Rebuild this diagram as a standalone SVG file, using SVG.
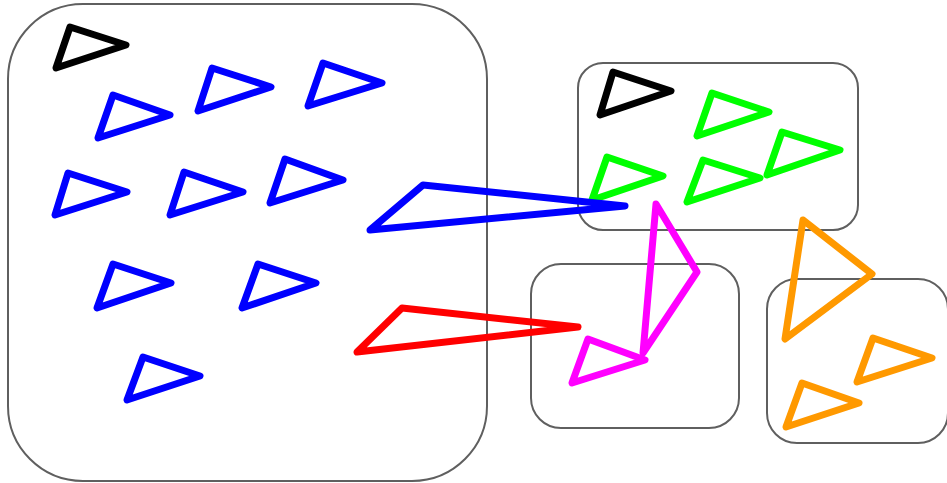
<svg xmlns="http://www.w3.org/2000/svg" width="947" height="483" viewBox="0 0 947 483">
<style>
.box{fill:#fff;stroke:#5f5f5f;stroke-width:2}
.t{fill:none;stroke-width:7;stroke-linejoin:round;stroke-linecap:round}
.k{stroke:#000}.b{stroke:#0000ff}.g{stroke:#00ff00}.m{stroke:#ff00ff}.o{stroke:#ff9900}.r{stroke:#ff0000}
</style>
<rect width="947" height="483" fill="#fff"/>
<g id="box-main"><rect class="box" x="8" y="4" width="479" height="477" rx="75" ry="75"/></g>
<g id="box-top"><rect class="box" x="578" y="63" width="280" height="167" rx="25" ry="25"/></g>
<g id="box-mid"><rect class="box" x="531" y="264" width="208" height="164" rx="30" ry="30"/></g>
<g id="box-right"><rect class="box" x="767" y="279" width="181" height="164" rx="30" ry="30"/></g>
<g id="main-items">
<polygon class="t k" points="70,27 126,45 56,68"/>
<polygon class="t b" points="113,95 170,115 98,138"/>
<polygon class="t b" points="212,68 271,87 198,111"/>
<polygon class="t b" points="323,63 382,83 308,106"/>
<polygon class="t b" points="68,173 127,192 55,215"/>
<polygon class="t b" points="184,172 243,192 170,215"/>
<polygon class="t b" points="285,159 343,180 270,203"/>
<polygon class="t b" points="113,264 171,283 97,308"/>
<polygon class="t b" points="258,264 316,283 242,308"/>
<polygon class="t b" points="143,357 200,376 127,400"/>
</g>
<g id="top-items">
<polygon class="t k" points="613,72 671,91 600,115"/>
<polygon class="t g" points="712,93 769,112 697,136"/>
<polygon class="t g" points="607,157 663,176 592,200"/>
<polygon class="t g" points="703,160 760,178 687,202"/>
<polygon class="t g" points="782,132 840,150 767,175"/>
</g>
<g id="mid-items">
<polygon class="t m" points="588,339 645,360 572,383"/>
</g>
<g id="right-items">
<polygon class="t o" points="873,338 932,358 857,382"/>
<polygon class="t o" points="802,383 859,403 786,427"/>
</g>
<g id="connectors">
<polygon class="t b" points="423,185 625,206 370,230"/>
<polygon class="t r" points="402,308 578,327 357,352"/>
<polygon class="t m" points="656,204 697,272 643,353"/>
<polygon class="t o" points="803,220 872,274 785,339"/>
</g>
</svg>
